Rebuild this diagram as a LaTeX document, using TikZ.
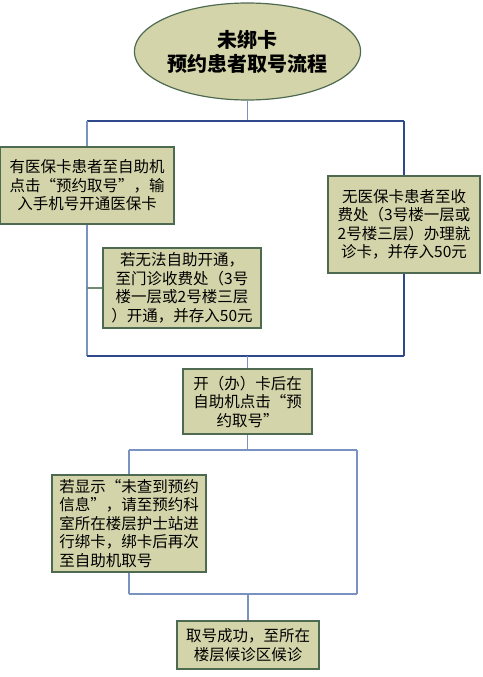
\documentclass[tikz,border=0pt]{standalone}
\usepackage{fontspec}
\usepackage{xcolor}
\usepackage{tikz}
\usetikzlibrary{positioning, calc, shapes}
\newfontfamily\cjk{Noto Sans CJK SC}
\definecolor{boxfill}{RGB}{212,212,170}
\definecolor{boxline}{RGB}{78,106,80}
\definecolor{navy}{RGB}{46,74,140}
\definecolor{steel}{RGB}{122,146,192}
\definecolor{sideline}{RGB}{112,138,114}

\begin{document}
\begin{tikzpicture}[x=1pt, y=-1pt,
    stepbox/.style={draw=boxline, line width=1.2pt, fill=boxfill, inner sep=2pt, align=center,
        font=\cjk\fontsize{15.5}{18.5}\selectfont},
    frame/.style={draw=navy, line width=1.2pt},
    stem/.style={draw=steel, line width=1.5pt}]
    \useasboundingbox (0,0) rectangle (482,677);
    % title
    \node[draw=boxline, line width=1.2pt, fill=boxfill, ellipse, minimum width=181pt, minimum height=97pt, inner sep=0pt,
        align=center, font=\cjk\bfseries\fontsize{20}{24}\selectfont] (title) at (247.5, 51.5) {未绑卡\\预约患者取号流程};

    % upper branch
    \coordinate (tl) at (87, 121);
    \coordinate (tr) at (404, 121);
    \coordinate (bl) at (87, 356);
    \coordinate (br) at (404, 356);
    \node[stepbox, minimum width=174pt, minimum height=77pt] (card) at (87, 185.5)
        {有医保卡患者至自助机\\点击“预约取号”，输\\入手机号开通医保卡};
    \node[stepbox, minimum width=158pt, minimum height=80pt] (selfopen) at (182, 288)
        {若无法自助开通，\\至门诊收费处（3号\\楼一层或2号楼三层\\）开通，并存入50元};
    \node[stepbox, minimum width=152pt, minimum height=97pt] (nocard) at (404, 224.5)
        {无医保卡患者至收\\费处（3号楼一层或\\2号楼三层）办理就\\诊卡，并存入50元};

    \draw[stem] (title) -- (title |- tl);
    \draw[frame] (tl) -- (tr);
    \draw[stem] (tl) -- (card);
    \draw[stem] (card) -- (bl);
    \draw[sideline, line width=1.5pt] (selfopen.west -| bl) -- (selfopen.west);
    \draw[frame] (tr) -- (nocard);
    \draw[frame] (nocard) -- (br);
    \draw[frame] (bl) -- (br);

    % middle step
    \node[stepbox, minimum width=129pt, minimum height=65pt] (kiosk) at (247.5, 401.5)
        {开（办）卡后在\\自助机点击“预\\约取号”};
    \draw[stem] (kiosk |- bl) -- (kiosk);

    % lower branch
    \coordinate (ltl) at (129, 450);
    \coordinate (ltr) at (357, 450);
    \coordinate (lbl) at (129, 594);
    \coordinate (lbr) at (357, 594);
    \node[stepbox, align=left, minimum width=154pt, minimum height=97pt] (rebind) at (129, 523.5)
        {若显示“未查到预约\\信息”，请至预约科\\室所在楼层护士站进\\行绑卡，绑卡后再次\\至自助机取号};
    \node[stepbox, minimum width=142pt, minimum height=48pt] (done) at (248, 645)
        {取号成功，至所在\\楼层候诊区候诊};

    \draw[stem] (kiosk) -- (kiosk |- ltl);
    \draw[stem] (ltl) -- (ltr);
    \draw[stem] (ltl) -- (rebind);
    \draw[stem] (rebind) -- (lbl);
    \draw[stem] (ltr) -- (lbr);
    \draw[stem] (lbl) -- (lbr);
    \draw[stem] (done |- lbl) -- (done);
\end{tikzpicture}
\end{document}
